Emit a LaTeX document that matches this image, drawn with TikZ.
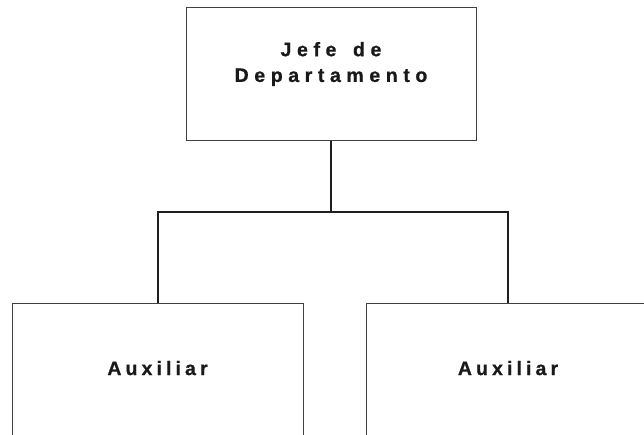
\documentclass[tikz,border=0pt]{standalone}
\usepackage{fontspec}
\setmainfont{Liberation Sans}[BoldFeatures={FakeBold=0.8}]
% spread the letters of a word apart (write spaces as ~)
\newcommand\lsamount{5pt}
\newcommand\spacedtext[2][5pt]{\renewcommand\lsamount{#1}\spacedloop#2\relax}
\def\spacedloop#1#2{#1\ifx#2\relax\else\kern\lsamount\expandafter\spacedloop\expandafter#2\fi}
\begin{document}
\begin{tikzpicture}[x=1pt, y=1pt,
  unit/.style={draw=black!75, line width=1pt, minimum height=133pt, inner sep=0pt,
    font=\bfseries\fontsize{19.5}{25.7}\selectfont, text=black!90},
  link/.style={draw=black!88, line width=2pt},
]
  \useasboundingbox (0,0) rectangle (644,434);
  \clip (0,0) rectangle (644,434);
  \node[unit, minimum width=290pt, align=center, text depth=25pt] (boss) at (331,359.5)
    {\spacedtext[5.6pt]{Jefe~de}\\\spacedtext[5.6pt]{Departamento}};
  \node[unit, minimum width=291pt, minimum height=134pt, text depth=4pt] (auxa) at (157.5,64)
    {\spacedtext[4.1pt]{Auxiliar}};
  \node[unit, minimum width=284pt, minimum height=134pt, text depth=4pt] (auxb) at (508,64)
    {\spacedtext[4.1pt]{Auxiliar}};

  \coordinate (bus) at (331,222);
  \draw[link] (boss.south) -- (bus);
  \draw[link] (auxa.north) -- (auxa.north |- bus) -- (auxb.north |- bus) -- (auxb.north);
\end{tikzpicture}
\end{document}
